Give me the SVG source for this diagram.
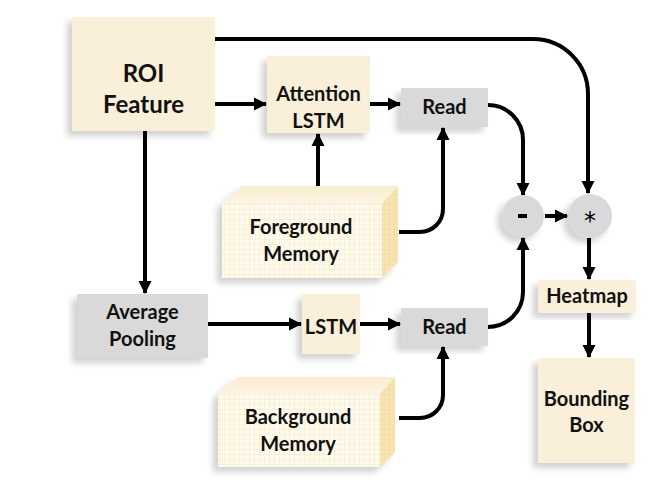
<svg xmlns="http://www.w3.org/2000/svg" width="664" height="497" viewBox="0 0 664 497">
<defs>
<style>
.beige{fill:#faefd9;}
.grey{fill:#d9d9d9;}
.t{font-family:Lato,"Open Sans","Liberation Sans",sans-serif;font-weight:bold;fill:#111;text-anchor:middle;font-size:20px;}
.big{font-size:24px;}
.c{fill:none;stroke:#000;stroke-width:4;marker-end:url(#ah);}
</style>
<marker id="ah" markerUnits="userSpaceOnUse" markerWidth="16" markerHeight="16" refX="12" refY="7" orient="auto">
<path d="M0,0.5 L13,7 L0,13.5 Z" fill="#000"/>
</marker>
<filter id="sh" x="-20%" y="-20%" width="140%" height="140%">
<feDropShadow dx="-5" dy="5" stdDeviation="3" flood-color="#000" flood-opacity="0.18"/>
</filter>
<pattern id="grid" width="5" height="5" patternUnits="userSpaceOnUse">
<rect width="5" height="5" fill="#fffaee"/>
<path d="M5,0 V5 M0,5 H5" stroke="#f3e2b8" stroke-width="0.8" fill="none"/>
</pattern>
<pattern id="grid2" width="5" height="5" patternUnits="userSpaceOnUse">
<rect width="5" height="5" fill="#f8e4b0"/>
<path d="M5,0 V5 M0,5 H5" stroke="#ecd49a" stroke-width="0.8" fill="none"/>
</pattern>
<linearGradient id="topg" x1="0" y1="0" x2="0" y2="1">
<stop offset="0" stop-color="#f9ecd0"/>
<stop offset="1" stop-color="#fdf5e3"/>
</linearGradient>
</defs>
<rect width="664" height="497" fill="#fff"/>

<g id="connectors">
<path class="c" d="M215,39 H533 A55,55 0 0 1 588,94 V193"/>
<path class="c" d="M215,104 H266"/>
<path class="c" d="M370,104 H400"/>
<path class="c" d="M488,105 A35,35 0 0 1 523,140 V195"/>
<path class="c" d="M318,187 V134"/>
<path class="c" d="M399,232 H420 A23,23 0 0 0 443,209 V128"/>
<path class="c" d="M145,131 V293"/>
<path class="c" d="M208,324 H301"/>
<path class="c" d="M360,324 H400"/>
<path class="c" d="M488,327 A35,35 0 0 0 523,292 V238"/>
<path class="c" d="M399,418 H420 A23,23 0 0 0 443,395 V347"/>
<path class="c" d="M545,216 H567"/>
<path class="c" d="M589,238 V279"/>
<path class="c" d="M589,313 V357"/>
</g>

<g id="roi-feature">
<rect class="beige" x="72" y="17" width="143" height="114" filter="url(#sh)"/>
<text class="t big" x="143.5" y="82">ROI</text>
<text class="t big" x="143.5" y="113">Feature</text>
</g>

<g id="attention-lstm">
<rect class="beige" x="267" y="56" width="103" height="77" filter="url(#sh)"/>
<text class="t" x="318.5" y="101">Attention</text>
<text class="t" x="318.5" y="128">LSTM</text>
</g>

<g id="read-1">
<rect class="grey" x="401" y="88" width="87" height="39" filter="url(#sh)"/>
<text class="t" x="444.5" y="114">Read</text>
</g>

<g id="foreground-memory">
<g filter="url(#sh)">
<path d="M222,204 L242,186 L398,186 L382,204 Z" fill="url(#topg)"/>
<path d="M382,204 L398,186 L398,262 L382,278 Z" fill="url(#grid2)"/>
<rect x="222" y="204" width="160" height="74" fill="url(#grid)"/>
</g>
<text class="t" x="301" y="234">Foreground</text>
<text class="t" x="301" y="261">Memory</text>
</g>

<g id="average-pooling">
<rect class="grey" x="77" y="294" width="131" height="64" filter="url(#sh)"/>
<text class="t" x="142.5" y="319">Average</text>
<text class="t" x="142.5" y="346">Pooling</text>
</g>

<g id="lstm">
<rect class="beige" x="302" y="294" width="58" height="60" filter="url(#sh)"/>
<text class="t" x="331" y="334">LSTM</text>
</g>

<g id="read-2">
<rect class="grey" x="401" y="308" width="87" height="38" filter="url(#sh)"/>
<text class="t" x="444.5" y="334">Read</text>
</g>

<g id="background-memory">
<g filter="url(#sh)">
<path d="M218,394 L238,377 L395,377 L380,394 Z" fill="url(#topg)"/>
<path d="M380,394 L395,377 L395,452 L380,467 Z" fill="url(#grid2)"/>
<rect x="218" y="394" width="162" height="73" fill="url(#grid)"/>
</g>
<text class="t" x="298" y="424">Background</text>
<text class="t" x="298" y="451">Memory</text>
</g>

<g id="minus">
<circle class="grey" cx="523" cy="216" r="21" filter="url(#sh)"/>
<rect x="518" y="214" width="9" height="4" fill="#000"/>
</g>

<g id="star">
<circle class="grey" cx="590" cy="216" r="22" filter="url(#sh)"/>
<text x="590" y="229" font-family="DejaVu Sans,sans-serif" font-size="24" text-anchor="middle" fill="#000">*</text>
</g>

<g id="heatmap">
<rect class="beige" x="538" y="280" width="98" height="33" filter="url(#sh)"/>
<text class="t" x="587" y="303">Heatmap</text>
</g>

<g id="bounding-box">
<rect class="beige" x="538" y="358" width="97" height="105" filter="url(#sh)"/>
<text class="t" x="586.5" y="406">Bounding</text>
<text class="t" x="586.5" y="432">Box</text>
</g>
</svg>
